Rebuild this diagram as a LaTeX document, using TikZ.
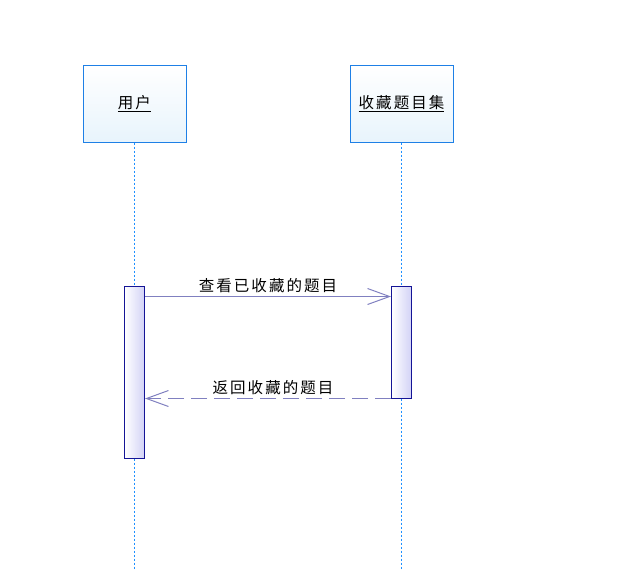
\documentclass[tikz,border=0pt]{standalone}
\usepackage{fontspec}
\newfontfamily\cjk[LetterSpace=13]{Noto Sans CJK SC}
\usetikzlibrary{arrows.meta}
\definecolor{lifeblue}{RGB}{30,144,255}
\definecolor{boxblue}{RGB}{30,128,230}
\definecolor{boxfill}{RGB}{232,244,252}
\definecolor{barnavy}{RGB}{20,20,150}
\definecolor{barfill}{RGB}{210,210,246}
\definecolor{msgline}{RGB}{128,128,192}
\begin{document}
\begin{tikzpicture}[x=1pt,y=-1pt,obj/.style={draw=boxblue,line width=1pt,top color=white,bottom color=boxfill,minimum width=103pt,minimum height=77pt,inner sep=0pt,font=\cjk\fontsize{15.5pt}{17pt}\selectfont},life/.style={draw=lifeblue,line width=1pt,dash pattern=on 2pt off 2pt},bar/.style={draw=barnavy,line width=1pt,left color=white,right color=barfill,minimum width=20pt,inner sep=0pt},lbl/.style={font=\cjk\fontsize{15.5pt}{17pt}\selectfont,above,inner sep=3pt},msg/.style={draw=msgline,line width=1pt,-{Straight Barb[length=22pt,width=16pt]}}]
\useasboundingbox (0,0) rectangle (624,570);
\node[obj] (user) at (134.5,103.5) {\underline{用户}};
\node[obj] (coll) at (401.5,103.5) {\underline{收藏题目集}};
\coordinate (userend) at (134.5,570); \coordinate (collend) at (401.5,570);
\draw[life] (user.south)--(userend); \draw[life] (coll.south)--(collend);
\node[bar,minimum height=172pt] (userbar) at (134.5,372) {};
\node[bar,minimum height=112pt] (collbar) at (401.5,342) {};
\draw[msg] ([yshift=-11pt]userbar.north east)--node[lbl]{查看已收藏的题目} ([yshift=-11pt]collbar.north west);
\draw[msg,dash pattern=on 16pt off 7pt] (collbar.south west)--node[lbl,xshift=5pt]{返回收藏的题目} (collbar.south west -| userbar.east);
\end{tikzpicture}
\end{document}
